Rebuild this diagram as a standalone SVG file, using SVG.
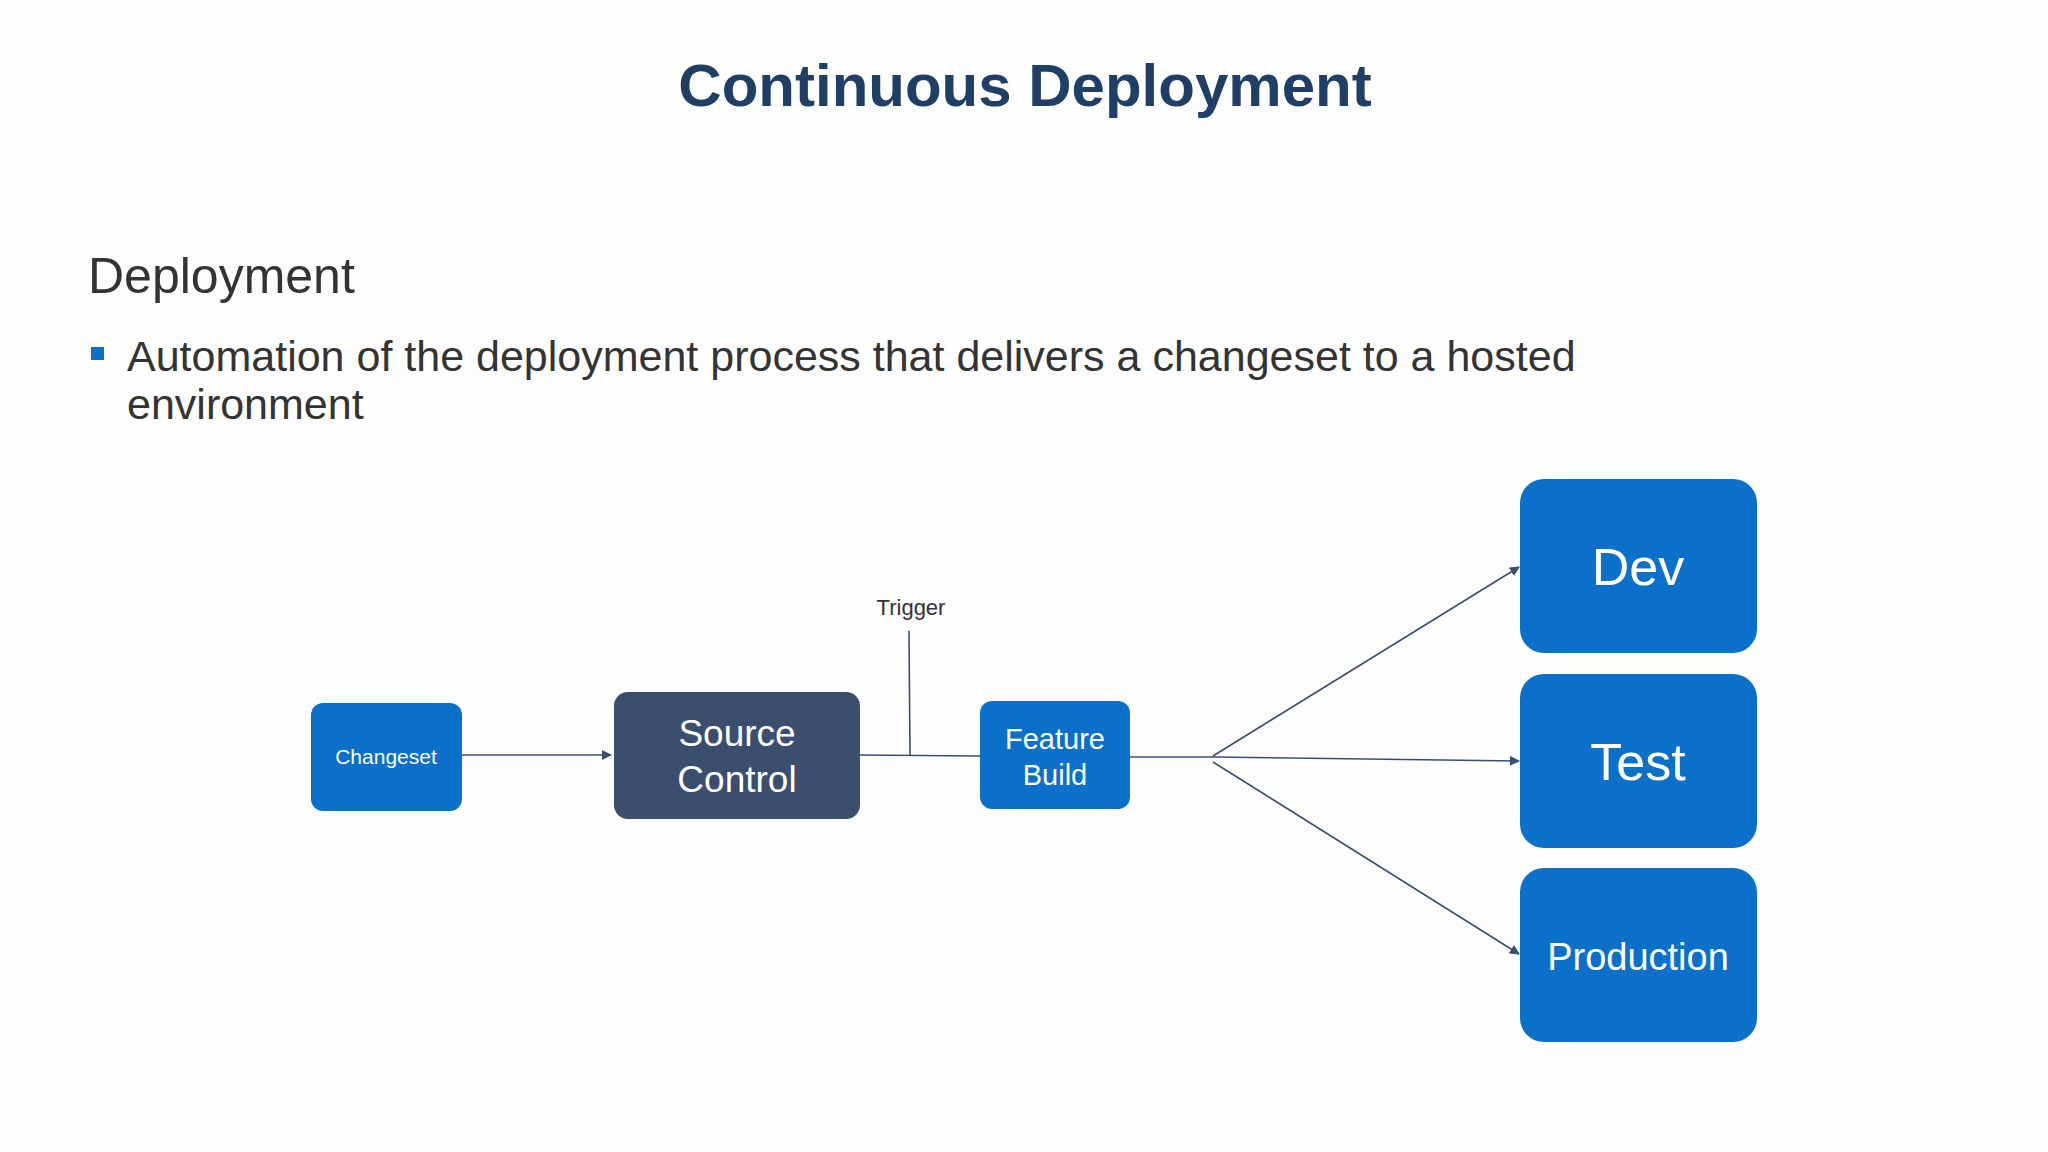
<svg xmlns="http://www.w3.org/2000/svg" width="2048" height="1152" viewBox="0 0 2048 1152">
<defs>
<style>
.t{font-family:"Liberation Sans",Arial,sans-serif;}
.b{fill:#0A70CA;}
.w{fill:#fff;text-anchor:middle;font-family:"Liberation Sans",Arial,sans-serif;}
.c{stroke:#3B4E6E;stroke-width:1.6;fill:none;}
</style>
<marker id="a" markerWidth="10" markerHeight="10" refX="9" refY="5" orient="auto" markerUnits="userSpaceOnUse"><path d="M0,0 L10,5 L0,10 z" fill="#3B4E6E"/></marker>
</defs>
<rect width="2048" height="1152" fill="#fdfdfd"/>
<text class="t" x="1025" y="106" font-size="60" font-weight="bold" fill="#1F3F66" text-anchor="middle">Continuous Deployment</text>
<text class="t" x="88" y="293" font-size="50" fill="#333">Deployment</text>
<rect x="91" y="347" width="13" height="13" fill="#0A70CA"/>
<text class="t" x="127" y="371" font-size="43" fill="#333">Automation of the deployment process that delivers a changeset to a hosted</text>
<text class="t" x="127" y="419" font-size="43" fill="#333">environment</text>
<g id="connectors">
<line class="c" x1="462" y1="755" x2="611" y2="755" marker-end="url(#a)"/>
<line class="c" x1="860" y1="755" x2="980" y2="756"/>
<line class="c" x1="909" y1="631" x2="910" y2="755"/>
<line class="c" x1="1130" y1="757" x2="1213" y2="757"/>
<line class="c" x1="1213" y1="756" x2="1519" y2="567" marker-end="url(#a)"/>
<line class="c" x1="1213" y1="757" x2="1519" y2="761" marker-end="url(#a)"/>
<line class="c" x1="1213" y1="762" x2="1519" y2="954" marker-end="url(#a)"/>
<text class="t" x="911" y="615" font-size="22" fill="#333" text-anchor="middle">Trigger</text>
</g>
<g id="changeset"><rect class="b" x="311" y="703" width="151" height="108" rx="12"/><text class="w" x="386" y="764" font-size="21">Changeset</text></g>
<g id="source"><rect x="614" y="692" width="246" height="127" rx="14" fill="#3B4E6E"/><text class="w" x="737" y="746" font-size="37">Source</text><text class="w" x="737" y="792" font-size="37">Control</text></g>
<g id="feature"><rect class="b" x="980" y="701" width="150" height="108" rx="12"/><text class="w" x="1055" y="749" font-size="29">Feature</text><text class="w" x="1055" y="785" font-size="29">Build</text></g>
<g id="dev"><rect class="b" x="1520" y="479" width="237" height="174" rx="24"/><text class="w" x="1638" y="585" font-size="52">Dev</text></g>
<g id="test"><rect class="b" x="1520" y="674" width="237" height="174" rx="24"/><text class="w" x="1638" y="780" font-size="52">Test</text></g>
<g id="prod"><rect class="b" x="1520" y="868" width="237" height="174" rx="24"/><text class="w" x="1638" y="970" font-size="38">Production</text></g>
</svg>
